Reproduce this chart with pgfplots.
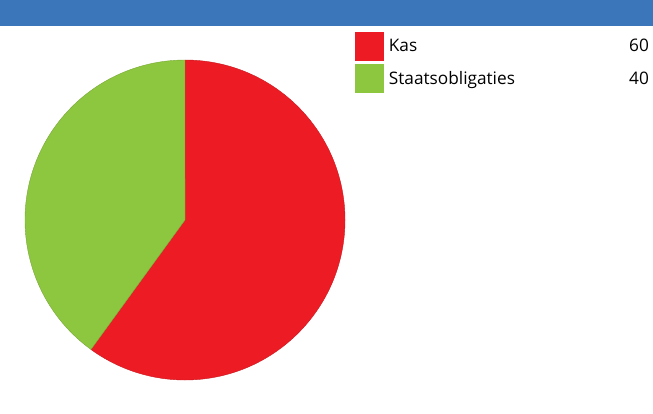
\documentclass[border=0pt]{standalone}
\usepackage{pgfplots}
\usepackage{pgfplotstable}
\pgfplotsset{compat=1.18}
\usepackage{fontspec}
\setmainfont{Open Sans}
\definecolor{barblue}{HTML}{3B76BA}
\definecolor{kasred}{HTML}{ED1C24}
\definecolor{obliggreen}{HTML}{8DC63F}
\pgfplotstableread{
label value
Kas 60
Staatsobligaties 40
}\piedata
\begin{document}
\begin{tikzpicture}[x=1bp,y=1bp]
\pgfplotstablegetelem{0}{value}\of\piedata \let\vA\pgfplotsretval
\pgfplotstablegetelem{1}{value}\of\piedata \let\vB\pgfplotsretval
\pgfmathsetmacro{\tot}{\vA+\vB}
\pgfmathsetmacro{\aA}{90-\vA/\tot*360}
\pgfmathsetmacro{\aB}{\aA-\vB/\tot*360}
\path[use as bounding box] (0,0) rectangle (653,413);
\fill[barblue] (0,387) rectangle (653,413);
\begin{axis}[
  at={(25bp,33bp)}, anchor=south west,
  scale only axis, width=320bp, height=320bp,
  xmin=-1, xmax=1, ymin=-1, ymax=1,
  hide axis, clip=false,
  legend style={at={(1.03125,1.0875)}, anchor=north west, draw=none, fill=none,
    inner sep=0pt, outer sep=0pt, row sep=4bp,
    nodes={inner sep=0pt, anchor=west, font=\fontsize{17.3}{20}\selectfont}},
  legend cell align=left,
  legend image code/.code={\fill[#1] (0bp,-14bp) rectangle (28bp,14bp);},
]
\addlegendimage{kasred}
\addlegendentry{\hspace{5.5bp}\makebox[260bp][l]{Kas\hfill 60}}
\addlegendimage{obliggreen}
\addlegendentry{\hspace{5.5bp}\makebox[260bp][l]{Staatsobligaties\hfill 40}}
\fill[kasred, draw=kasred!85!black, line width=0.4bp] (axis cs:0,0) -- (axis cs:0,1) arc[start angle=90, end angle=\aA, radius=1] -- cycle;
\fill[obliggreen, draw=obliggreen!85!black, line width=0.4bp] (axis cs:0,0) -- (axis cs:{cos(\aA)},{sin(\aA)}) arc[start angle=\aA, end angle=\aB, radius=1] -- cycle;
\end{axis}
\end{tikzpicture}
\end{document}
